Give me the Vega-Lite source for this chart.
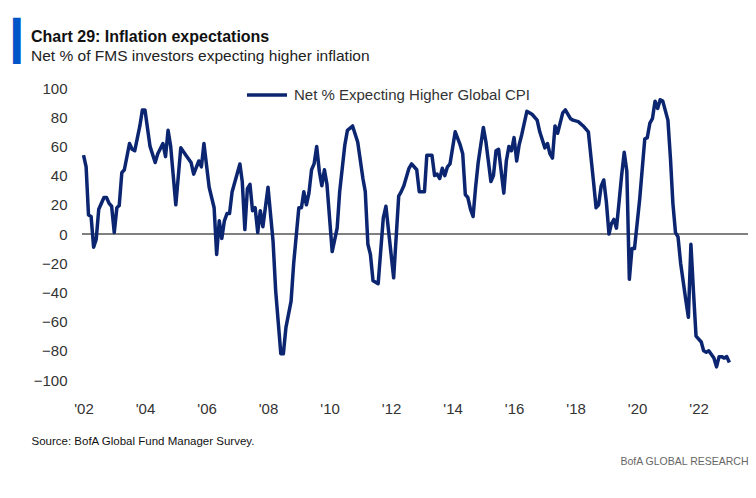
{
  "$schema": "https://vega.github.io/schema/vega-lite/v6.json",
  "width": 666,
  "height": 292,
  "autosize": {"type": "none"},
  "padding": {"left": 82, "top": 88, "right": 8, "bottom": 118},
  "background": "white",
  "config": {
    "view": {"stroke": null},
    "axis": {"grid": false, "domain": false, "ticks": false, "tickSize": 0},
    "font": "Liberation Sans, sans-serif"
  },
  "title": {
    "text": "Chart 29: Inflation expectations",
    "subtitle": "Net % of FMS investors expecting higher inflation",
    "anchor": "start",
    "frame": "group",
    "dx": -51,
    "offset": -42,
    "font": "Liberation Sans, sans-serif",
    "fontSize": 16,
    "fontWeight": "bold",
    "color": "#111111",
    "subtitleFont": "Liberation Sans, sans-serif",
    "subtitleFontSize": 15.5,
    "subtitleColor": "#222222",
    "subtitlePadding": 4
  },
  "data": {
    "values": [
      {"d": "2002-01", "v": 54}, {"d": "2002-02", "v": 46}, {"d": "2002-03", "v": 13}, {"d": "2002-04", "v": 12},
      {"d": "2002-05", "v": -9}, {"d": "2002-06", "v": -3.5}, {"d": "2002-07", "v": 17}, {"d": "2002-09", "v": 25},
      {"d": "2002-10", "v": 25}, {"d": "2002-11", "v": 21}, {"d": "2002-12", "v": 19}, {"d": "2003-01", "v": 1},
      {"d": "2003-02", "v": 18}, {"d": "2003-03", "v": 19.5}, {"d": "2003-04", "v": 42}, {"d": "2003-05", "v": 44},
      {"d": "2003-07", "v": 62}, {"d": "2003-08", "v": 58}, {"d": "2003-09", "v": 57}, {"d": "2003-11", "v": 74},
      {"d": "2003-12", "v": 85}, {"d": "2004-01", "v": 85}, {"d": "2004-03", "v": 60}, {"d": "2004-05", "v": 49},
      {"d": "2004-06", "v": 55}, {"d": "2004-08", "v": 62}, {"d": "2004-09", "v": 53}, {"d": "2004-10", "v": 71},
      {"d": "2004-11", "v": 60}, {"d": "2005-01", "v": 20}, {"d": "2005-03", "v": 59}, {"d": "2005-05", "v": 54},
      {"d": "2005-07", "v": 49}, {"d": "2005-08", "v": 41}, {"d": "2005-10", "v": 50}, {"d": "2005-11", "v": 46},
      {"d": "2005-12", "v": 62}, {"d": "2006-02", "v": 32}, {"d": "2006-04", "v": 18}, {"d": "2006-05", "v": -14},
      {"d": "2006-06", "v": 9}, {"d": "2006-07", "v": -3}, {"d": "2006-08", "v": 9}, {"d": "2006-09", "v": 14},
      {"d": "2006-10", "v": 14}, {"d": "2006-11", "v": 29}, {"d": "2007-02", "v": 48}, {"d": "2007-03", "v": 36},
      {"d": "2007-04", "v": 3}, {"d": "2007-05", "v": 31}, {"d": "2007-06", "v": 34}, {"d": "2007-07", "v": 16},
      {"d": "2007-08", "v": 18}, {"d": "2007-09", "v": 1}, {"d": "2007-10", "v": 16}, {"d": "2007-11", "v": 5},
      {"d": "2008-01", "v": 32}, {"d": "2008-03", "v": -5}, {"d": "2008-04", "v": -39}, {"d": "2008-06", "v": -82},
      {"d": "2008-07", "v": -82}, {"d": "2008-08", "v": -64}, {"d": "2008-10", "v": -46}, {"d": "2008-11", "v": -20},
      {"d": "2009-01", "v": 18}, {"d": "2009-02", "v": 18}, {"d": "2009-03", "v": 29}, {"d": "2009-04", "v": 20},
      {"d": "2009-05", "v": 28}, {"d": "2009-06", "v": 44}, {"d": "2009-07", "v": 48}, {"d": "2009-08", "v": 60},
      {"d": "2009-09", "v": 43}, {"d": "2009-10", "v": 33}, {"d": "2009-11", "v": 44}, {"d": "2009-12", "v": 34},
      {"d": "2010-02", "v": -12}, {"d": "2010-04", "v": 4}, {"d": "2010-05", "v": 29}, {"d": "2010-07", "v": 61},
      {"d": "2010-08", "v": 71}, {"d": "2010-10", "v": 74}, {"d": "2010-12", "v": 63}, {"d": "2011-02", "v": 38},
      {"d": "2011-03", "v": 29}, {"d": "2011-04", "v": -7}, {"d": "2011-05", "v": -14}, {"d": "2011-06", "v": -32},
      {"d": "2011-08", "v": -34}, {"d": "2011-10", "v": 11}, {"d": "2011-11", "v": 19}, {"d": "2012-02", "v": -30},
      {"d": "2012-04", "v": 26}, {"d": "2012-05", "v": 29}, {"d": "2012-06", "v": 33}, {"d": "2012-08", "v": 45},
      {"d": "2012-09", "v": 48}, {"d": "2012-11", "v": 44}, {"d": "2012-12", "v": 29}, {"d": "2013-02", "v": 29},
      {"d": "2013-03", "v": 54}, {"d": "2013-05", "v": 54}, {"d": "2013-06", "v": 40}, {"d": "2013-07", "v": 41},
      {"d": "2013-08", "v": 38}, {"d": "2013-09", "v": 45}, {"d": "2013-10", "v": 40}, {"d": "2013-11", "v": 46},
      {"d": "2013-12", "v": 48}, {"d": "2014-01", "v": 59}, {"d": "2014-02", "v": 70}, {"d": "2014-04", "v": 61},
      {"d": "2014-05", "v": 55}, {"d": "2014-06", "v": 27}, {"d": "2014-07", "v": 25}, {"d": "2014-08", "v": 17},
      {"d": "2014-09", "v": 12}, {"d": "2014-10", "v": 32}, {"d": "2014-11", "v": 49}, {"d": "2015-01", "v": 73},
      {"d": "2015-02", "v": 63}, {"d": "2015-04", "v": 36}, {"d": "2015-05", "v": 40}, {"d": "2015-06", "v": 57},
      {"d": "2015-07", "v": 58}, {"d": "2015-09", "v": 28}, {"d": "2015-10", "v": 50}, {"d": "2015-11", "v": 60},
      {"d": "2015-12", "v": 57}, {"d": "2016-01", "v": 66}, {"d": "2016-02", "v": 50}, {"d": "2016-03", "v": 61},
      {"d": "2016-04", "v": 68}, {"d": "2016-06", "v": 84}, {"d": "2016-08", "v": 82}, {"d": "2016-10", "v": 78},
      {"d": "2016-11", "v": 70}, {"d": "2017-01", "v": 59}, {"d": "2017-02", "v": 62}, {"d": "2017-03", "v": 55},
      {"d": "2017-04", "v": 52}, {"d": "2017-05", "v": 74}, {"d": "2017-06", "v": 69}, {"d": "2017-08", "v": 83},
      {"d": "2017-09", "v": 85}, {"d": "2017-11", "v": 79}, {"d": "2017-12", "v": 78}, {"d": "2018-02", "v": 77},
      {"d": "2018-04", "v": 74}, {"d": "2018-06", "v": 70}, {"d": "2018-08", "v": 36}, {"d": "2018-09", "v": 18},
      {"d": "2018-10", "v": 20}, {"d": "2018-11", "v": 33}, {"d": "2018-12", "v": 37}, {"d": "2019-01", "v": 22},
      {"d": "2019-02", "v": 0}, {"d": "2019-03", "v": 7}, {"d": "2019-04", "v": 10}, {"d": "2019-05", "v": 4},
      {"d": "2019-06", "v": 22}, {"d": "2019-07", "v": 40}, {"d": "2019-08", "v": 56}, {"d": "2019-09", "v": 43},
      {"d": "2019-10", "v": -31}, {"d": "2019-11", "v": -10}, {"d": "2019-12", "v": -10}, {"d": "2020-02", "v": 24},
      {"d": "2020-04", "v": 65}, {"d": "2020-05", "v": 66}, {"d": "2020-06", "v": 76}, {"d": "2020-07", "v": 79},
      {"d": "2020-08", "v": 91}, {"d": "2020-09", "v": 86}, {"d": "2020-10", "v": 92}, {"d": "2020-11", "v": 91},
      {"d": "2021-01", "v": 78}, {"d": "2021-02", "v": 51}, {"d": "2021-03", "v": 21}, {"d": "2021-04", "v": 1},
      {"d": "2021-05", "v": -2}, {"d": "2021-06", "v": -20}, {"d": "2021-08", "v": -45}, {"d": "2021-09", "v": -57},
      {"d": "2021-10", "v": -7}, {"d": "2021-11", "v": -40}, {"d": "2021-12", "v": -70}, {"d": "2022-02", "v": -74},
      {"d": "2022-03", "v": -80}, {"d": "2022-04", "v": -81}, {"d": "2022-05", "v": -80}, {"d": "2022-07", "v": -85},
      {"d": "2022-08", "v": -91}, {"d": "2022-09", "v": -84}, {"d": "2022-10", "v": -84}, {"d": "2022-11", "v": -85},
      {"d": "2022-12", "v": -84}, {"d": "2023-01", "v": -88}
    ]
  },
  "layer": [
    {
      "mark": {"type": "rule", "color": "#808080", "strokeWidth": 2},
      "encoding": {
        "y": {
          "datum": 0,
          "type": "quantitative",
          "scale": {"domain": [-100, 100]},
          "axis": {
            "orient": "right",
            "labels": false,
            "title": "BofA GLOBAL RESEARCH",
            "titleFont": "Liberation Sans, sans-serif",
            "titleAngle": 0,
            "titleX": 0,
            "titleY": 373,
            "titleAlign": "right",
            "titleBaseline": "middle",
            "titleFontSize": 10.5,
            "titleFontWeight": "normal",
            "titleColor": "#666666"
          }
        }
      }
    },
    {
      "mark": {"type": "line", "strokeWidth": 3.5, "strokeJoin": "round", "clip": false},
      "encoding": {
        "x": {
          "field": "d",
          "type": "temporal",
          "scale": {"type": "utc", "domain": [{"year": 2001, "month": 12, "date": 14, "utc": true}, {"year": 2023, "month": 8, "date": 10, "utc": true}]},
          "axis": {
            "values": [
              {"year": 2002, "utc": true}, {"year": 2004, "utc": true}, {"year": 2006, "utc": true}, {"year": 2008, "utc": true},
              {"year": 2010, "utc": true}, {"year": 2012, "utc": true}, {"year": 2014, "utc": true}, {"year": 2016, "utc": true},
              {"year": 2018, "utc": true}, {"year": 2020, "utc": true}, {"year": 2022, "utc": true}
            ],
            "labelExpr": "\"'\" + utcFormat(datum.value, '%y')",
            "labelFontSize": 15,
            "labelColor": "#333333",
            "labelPadding": 21,
            "labelFont": "Liberation Sans, sans-serif",
            "title": "Source: BofA Global Fund Manager Survey.",
            "titleFont": "Liberation Sans, sans-serif",
            "titleX": -51,
            "titleY": 61,
            "titleAlign": "left",
            "titleBaseline": "middle",
            "titleFontSize": 11.5,
            "titleFontWeight": "normal",
            "titleColor": "#111111"
          }
        },
        "y": {
          "field": "v",
          "type": "quantitative",
          "scale": {"domain": [-100, 100]},
          "axis": {
            "orient": "left",
            "values": [-100, -80, -60, -40, -20, 0, 20, 40, 60, 80, 100],
            "labelFontSize": 15,
            "labelColor": "#333333",
            "labelPadding": 15,
            "labelFont": "Liberation Sans, sans-serif",
            "title": "▎",
            "titleFont": "DejaVu Sans",
            "titleFontSize": 39,
            "titleFontWeight": "normal",
            "titleColor": "#0055C8",
            "titleAngle": 0,
            "titleX": -69,
            "titleY": -47,
            "titleAlign": "left",
            "titleBaseline": "middle"
          }
        },
        "color": {
          "datum": "Net % Expecting Higher Global CPI",
          "scale": {"range": ["#0B2570"]},
          "legend": {
            "title": null,
            "orient": "none",
            "legendX": 163,
            "legendY": -15,
            "symbolType": "stroke",
            "symbolSize": 1600,
            "symbolStrokeWidth": 3.5,
            "labelFontSize": 15,
            "labelLimit": 400,
            "labelColor": "#333333",
            "labelOffset": 5,
            "labelFont": "Liberation Sans, sans-serif"
          }
        }
      }
    }
  ],
  "resolve": {"scale": {"y": "independent"}, "axis": {"y": "independent"}}
}
